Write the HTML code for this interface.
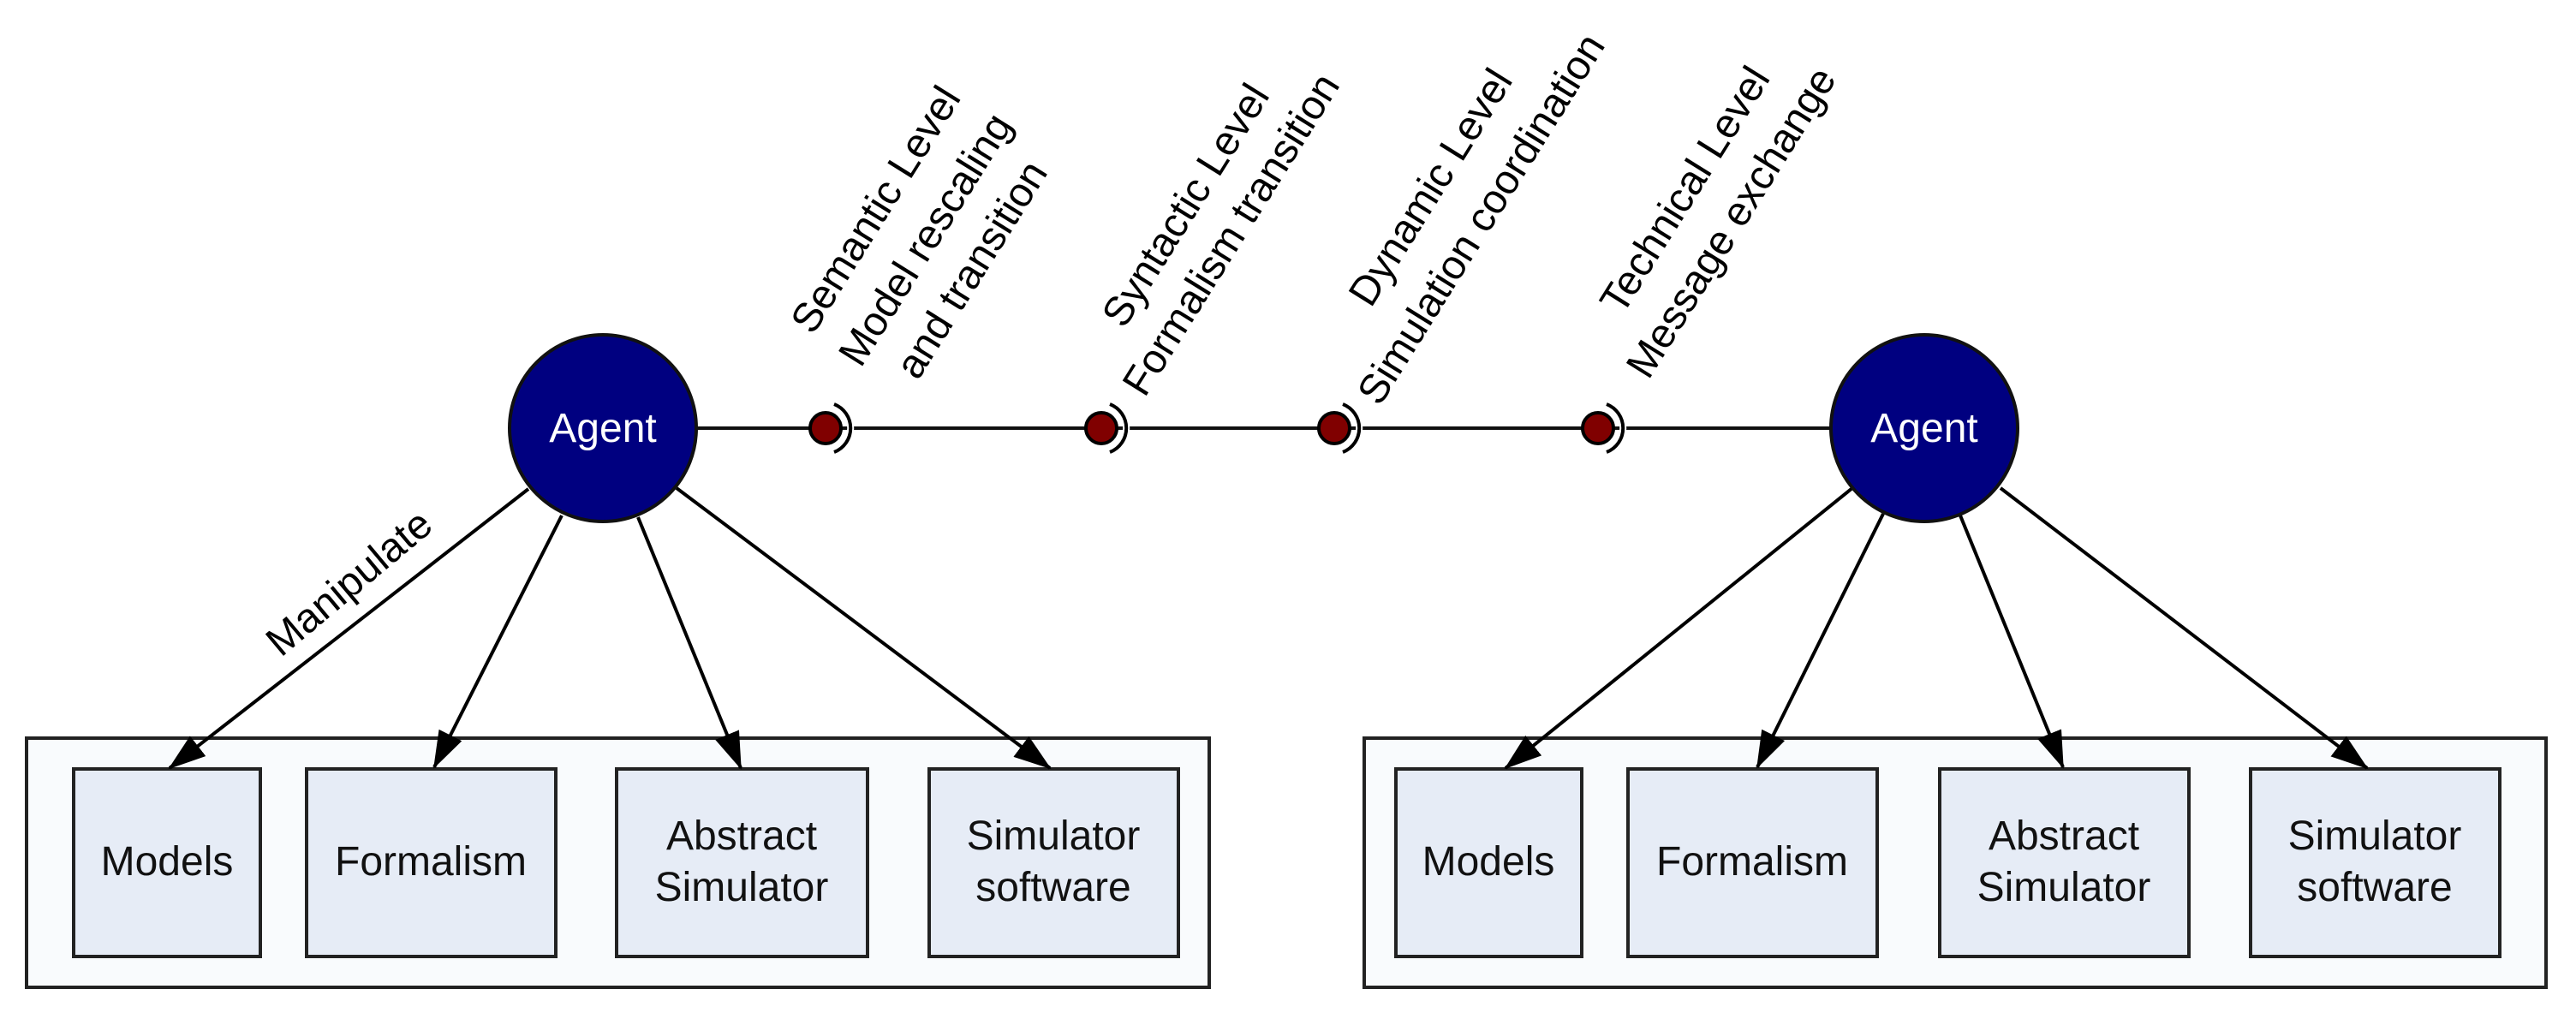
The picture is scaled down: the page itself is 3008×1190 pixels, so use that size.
<!DOCTYPE html>
<html><head><meta charset="utf-8"><style>
html,body{margin:0;padding:0;background:#fff;}
svg{display:block;}
text{font-family:"Liberation Sans",Arial,sans-serif;}
</style></head><body>
<svg width="3008" height="1190" viewBox="0 0 3008 1190" xmlns="http://www.w3.org/2000/svg">
<defs>
<marker id="ah" markerWidth="44" markerHeight="30" refX="42" refY="15" orient="auto" markerUnits="userSpaceOnUse">
<path d="M0,0 L44,15 L0,30 Z" fill="#000"/>
</marker>
</defs>
<line x1="812" y1="500" x2="2138" y2="500" stroke="#111" stroke-width="4"/>
<g stroke="#000" stroke-width="4">
<g transform="translate(964,500)"><circle r="18" fill="#800000"/><path d="M10,-28 A30,30 0 0 1 10,28" fill="none" stroke="#fff" stroke-width="8"/><path d="M10,-28 A30,30 0 0 1 10,28" fill="none"/></g>
<g transform="translate(1286,500)"><circle r="18" fill="#800000"/><path d="M10,-28 A30,30 0 0 1 10,28" fill="none" stroke="#fff" stroke-width="8"/><path d="M10,-28 A30,30 0 0 1 10,28" fill="none"/></g>
<g transform="translate(1558,500)"><circle r="18" fill="#800000"/><path d="M10,-28 A30,30 0 0 1 10,28" fill="none" stroke="#fff" stroke-width="8"/><path d="M10,-28 A30,30 0 0 1 10,28" fill="none"/></g>
<g transform="translate(1866,500)"><circle r="18" fill="#800000"/><path d="M10,-28 A30,30 0 0 1 10,28" fill="none" stroke="#fff" stroke-width="8"/><path d="M10,-28 A30,30 0 0 1 10,28" fill="none"/></g>
</g>
<g font-size="48" fill="#000" text-anchor="middle" dominant-baseline="central">
<text transform="translate(1023,245) rotate(-58)">Semantic Level</text>
<text transform="translate(1081,280) rotate(-58)">Model rescaling</text>
<text transform="translate(1135,315) rotate(-58)">and transition</text>
<text transform="translate(1385,240) rotate(-58)">Syntactic Level</text>
<text transform="translate(1438,274) rotate(-58)">Formalism  transition</text>
<text transform="translate(1671,219) rotate(-58)">Dynamic Level</text>
<text transform="translate(1730,256) rotate(-58)">Simulation coordination</text>
<text transform="translate(1968,222) rotate(-58)">Technical Level</text>
<text transform="translate(2022,260) rotate(-58)">Message exchange</text>
<text transform="translate(408,681) rotate(-40)">Manipulate</text>
</g>
<g stroke="#222" stroke-width="4">
<rect x="31" y="862" width="1381" height="291" fill="#f9fbfd"/>
<rect x="1593" y="862" width="1380" height="291" fill="#f9fbfd"/>
<g fill="#e6ecf6">
<rect x="86" y="898" width="218" height="219"/>
<rect x="358" y="898" width="291" height="219"/>
<rect x="720" y="898" width="293" height="219"/>
<rect x="1085" y="898" width="291" height="219"/>
<rect x="1630" y="898" width="217" height="219"/>
<rect x="1901" y="898" width="291" height="219"/>
<rect x="2265" y="898" width="291" height="219"/>
<rect x="2628" y="898" width="291" height="219"/>
</g>
</g>
<g font-size="48" fill="#111" text-anchor="middle">
<text x="195" y="1022">Models</text>
<text x="503" y="1022">Formalism</text>
<text x="866" y="992">Abstract</text><text x="866" y="1052">Simulator</text>
<text x="1230" y="992">Simulator</text><text x="1230" y="1052">software</text>
<text x="1738" y="1022">Models</text>
<text x="2046" y="1022">Formalism</text>
<text x="2410" y="992">Abstract</text><text x="2410" y="1052">Simulator</text>
<text x="2773" y="992">Simulator</text><text x="2773" y="1052">software</text>
</g>
<g stroke="#000" stroke-width="4" marker-end="url(#ah)">
<line x1="617" y1="571" x2="198" y2="897"/>
<line x1="656" y1="602" x2="507" y2="896"/>
<line x1="745" y1="604" x2="865" y2="897"/>
<line x1="790" y1="570" x2="1226" y2="897"/>
<line x1="2163" y1="570" x2="1758" y2="897"/>
<line x1="2199" y1="600" x2="2052" y2="896"/>
<line x1="2289" y1="602" x2="2409" y2="896"/>
<line x1="2336" y1="570" x2="2764" y2="897"/>
</g>
<g stroke="#111" stroke-width="4" fill="#000080">
<circle cx="704" cy="500" r="109"/>
<circle cx="2247" cy="500" r="109"/>
</g>
<g font-size="48" fill="#fff" text-anchor="middle">
<text x="704" y="516">Agent</text>
<text x="2247" y="516">Agent</text>
</g>
</svg>
</body></html>
